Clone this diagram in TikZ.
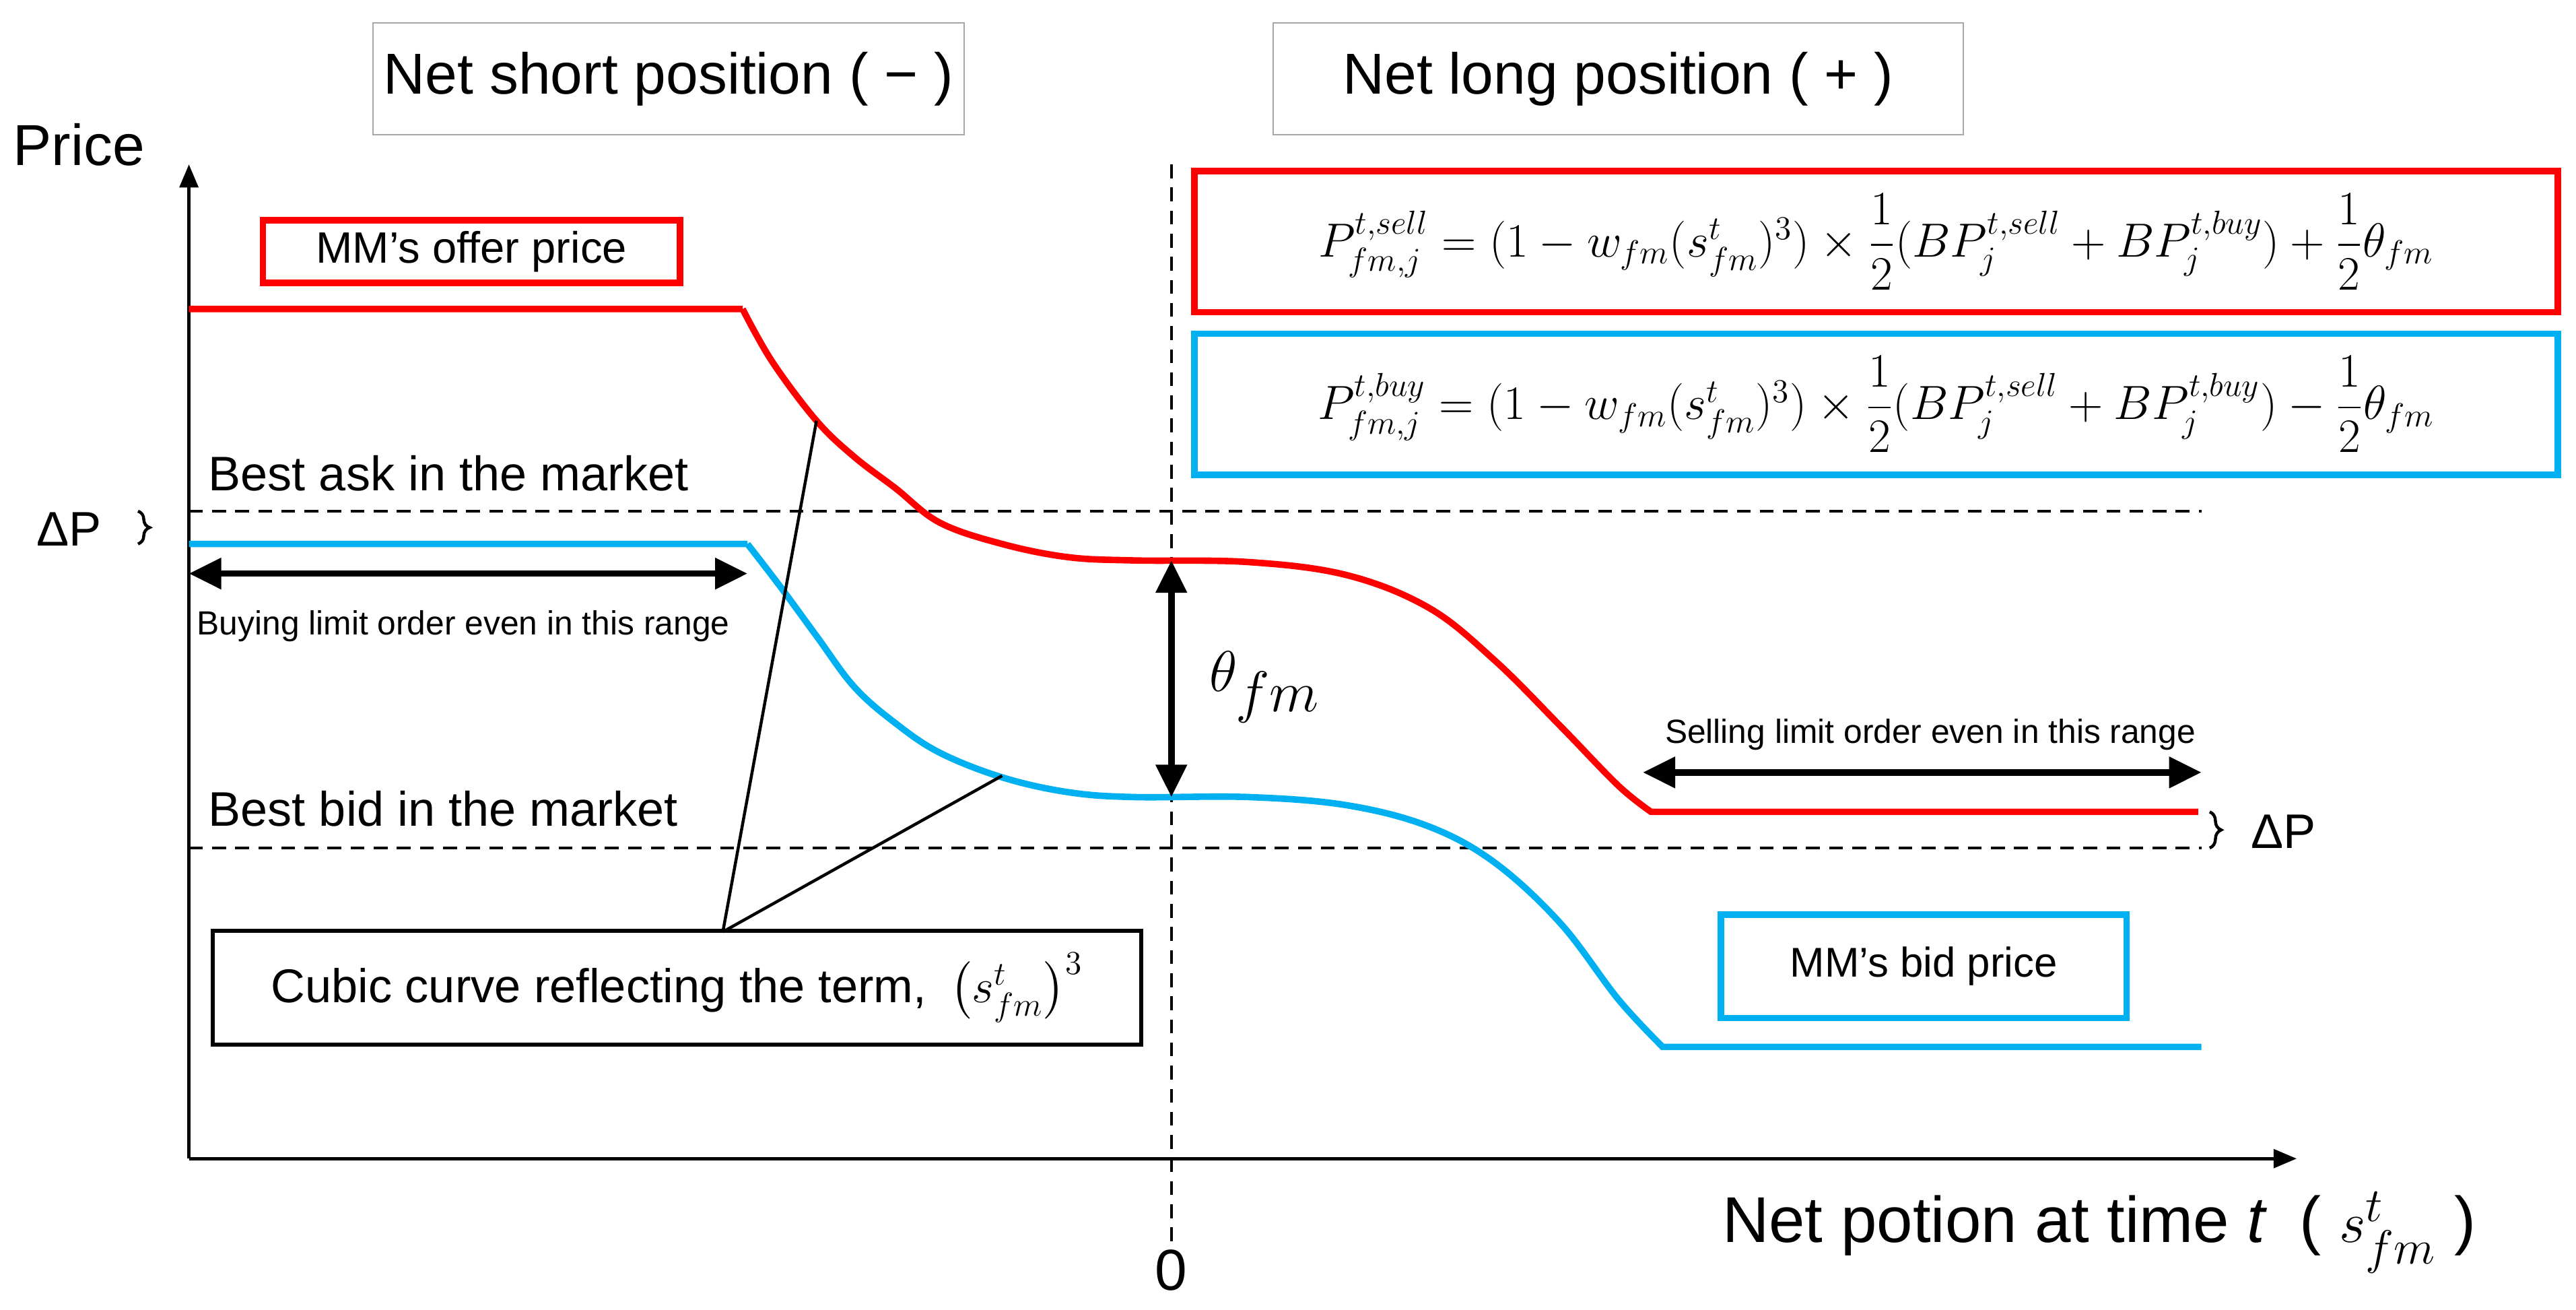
\documentclass[tikz,border=0pt]{standalone}
\usepackage{fontspec}
\setmainfont{Liberation Sans}
\usepackage{amsmath}
\usetikzlibrary{arrows.meta,decorations.pathreplacing}
\definecolor{myred}{RGB}{255,0,0}
\definecolor{myblue}{RGB}{0,176,240}
\begin{document}
\begin{tikzpicture}[x=0.025cm,y=-0.025cm,
  hdr/.style={draw=gray!70,line width=0.6pt,minimum width=360*0.025cm,minimum height=68*0.025cm,font=\fontsize{25}{30}\selectfont},
  lbl/.style={font=\fontsize{21}{25}\selectfont,anchor=west},
  small/.style={font=\fontsize{14.5}{17}\selectfont},
  curve/.style={line width=2.8pt},
  dbl/.style={line width=2.8pt,{Triangle[length=14pt,width=13pt]}-{Triangle[length=14pt,width=13pt]}},
  mydash/.style={line width=1.3pt,dash pattern=on 6pt off 4pt},
  fbox/.style={line width=2.8pt,minimum width=830*0.025cm,minimum height=86*0.025cm,font=\fontsize{22.5}{26}\selectfont}]
\useasboundingbox (0,0) rectangle (1568,797);
% headers
\node[hdr] (short) at (407,48) {Net short position ( − )};
\node[hdr,minimum width=420*0.025cm] (long) at (985,48) {Net long position ( + )};
% axes
\coordinate (O) at (115,705);
\coordinate (ytop) at (115,100);
\coordinate (xend) at (1398,705);
\draw[line width=1.5pt,-{Triangle[length=10pt,width=8pt]}] (O) -- (ytop);
\draw[line width=1.5pt,-{Triangle[length=10pt,width=8pt]}] (O) -- (xend);
\node[font=\fontsize{25}{30}\selectfont] (price) at (48,88) {Price};
\node[font=\fontsize{25}{30}\selectfont] (zero) at (713,773) {0};
\node[font=\fontsize{28}{32}\selectfont,anchor=east] (xl) at (1512,750) {Net potion at time \textit{t}\enspace ( $s^{t}_{fm}$ )};
% vertical dashed
\coordinate (vt) at (713,100); \coordinate (vb) at (713,760);
\draw[mydash] (vt) -- (vb);
% best ask/bid
\coordinate (a1) at (115,311); \coordinate (a2) at (1340,311);
\coordinate (b1) at (115,516); \coordinate (b2) at (1340,516);
\draw[mydash] (a1) -- (a2);
\draw[mydash] (b1) -- (b2);
\node[lbl] (ask) at (122,288) {Best ask in the market};
\node[lbl] (bid) at (122,492) {Best bid in the market};
% delta P
\draw[line width=1.3pt,decorate,decoration={brace,amplitude=5pt}] (84,311) -- (84,331);
\node[font=\fontsize{21}{25}\selectfont] (dpl) at (42,322) {ΔP};
\draw[line width=1.3pt,decorate,decoration={brace,amplitude=5pt}] (1345,494) -- (1345,516);
\node[font=\fontsize{21}{25}\selectfont] (dpr) at (1390,506) {ΔP};
% curves
\draw[curve,myred] (115,188) -- (452,188) plot[smooth,tension=0.6] coordinates {(452,188) (470,220) (497,256) (520,278) (545,297) (572,318) (610,331) (650,339) (690,341) (760,342) (820,350) (870,370) (910,402) (950,442) (985,478) (1005,494)} -- (1338,494);
\draw[curve,myblue] (115,331) -- (455,331) plot[smooth,tension=0.6] coordinates {(455,331) (475,357) (497,387) (520,418) (545,440) (572,458) (610,473) (650,482) (690,485) (760,485) (820,490) (870,503) (910,525) (950,562) (985,608) (1012,637)} -- (1340,637);
% arrows
\coordinate (l1) at (115,349); \coordinate (l2) at (455,349);
\draw[dbl] (l1) -- (l2);
\node[small] (buy) at (282,381) {Buying limit order even in this range};
\coordinate (t1) at (713,341); \coordinate (t2) at (713,485);
\draw[dbl] (t1) -- (t2);
\node[font=\fontsize{48}{54}\selectfont] (theta) at (770,418) {$\theta_{fm}$};
\coordinate (r1) at (1000,470); \coordinate (r2) at (1340,470);
\draw[dbl] (r1) -- (r2);
\node[small] (sell) at (1175,447) {Selling limit order even in this range};
% boxes
\node[draw=myred,line width=2.8pt,minimum width=254*0.025cm,minimum height=38*0.025cm,font=\fontsize{19}{22}\selectfont,inner xsep=0pt] (offer) at (287,153) {MM’s offer price\hspace{30pt}};
\node[draw=myblue,line width=2.8pt,minimum width=247*0.025cm,minimum height=63*0.025cm,font=\fontsize{18}{22}\selectfont] (bidp) at (1171,588) {MM’s bid price};
\node[draw,line width=1.8pt,minimum width=565*0.025cm,minimum height=69*0.025cm,inner xsep=2pt,font=\fontsize{20.5}{24}\selectfont] (cubic) at (412,601) {Cubic curve reflecting the term,\enspace $\big(s^{t}_{fm}\big)^3$};
\coordinate (c1) at (497,256); \coordinate (c2) at (610,472); \coordinate (c0) at (440,567);
\draw[line width=1.3pt] (c0) -- (c1);
\draw[line width=1.3pt] (c0) -- (c2);
% formulas
\node[fbox,draw=myred] (fsell) at (1142,147) {$P^{t,sell}_{fm,j}=(1-w_{fm}(s^{t}_{fm})^3)\times\dfrac{1}{2}(BP^{t,sell}_{j}+BP^{t,buy}_{j})+\dfrac{1}{2}\theta_{fm}$};
\node[fbox,draw=myblue] (fbuy) at (1142,246) {$P^{t,buy}_{fm,j}=(1-w_{fm}(s^{t}_{fm})^3)\times\dfrac{1}{2}(BP^{t,sell}_{j}+BP^{t,buy}_{j})-\dfrac{1}{2}\theta_{fm}$};
\end{tikzpicture}
\end{document}
